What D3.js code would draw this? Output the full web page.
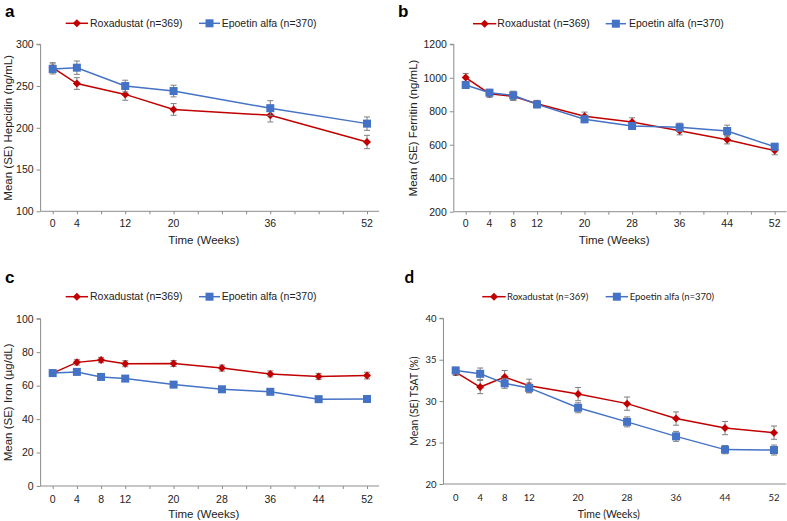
<!DOCTYPE html>
<html><head><meta charset="utf-8">
<script src="https://cdn.jsdelivr.net/npm/d3@7"></script>
<style>body{margin:0;background:#fff}svg{display:block}</style>
</head><body>
<svg id="chart" width="787" height="521"></svg>
<script>
// ---- data ----
const seriesNames = ["Roxadustat (n=369)", "Epoetin alfa (n=370)"];
const weeksA = [0, 4, 12, 20, 36, 52];
const weeksFull = [0, 4, 8, 12, 20, 28, 36, 44, 52];

const hepRoxa = [272, 253, 240, 222, 215, 183];
const hepRoxaSE = [6, 7, 7, 7, 8, 8];
const hepEpo = [270.5, 272, 250, 244, 223.5, 205];
const hepEpoSE = [6, 8, 7, 7, 9, 8];

const ferRoxa = [1001, 905, 889, 845, 770, 736, 684, 630, 565];
const ferRoxaSE = [25, 22, 25, 20, 25, 25, 25, 25, 25];
const ferEpo = [957, 911, 895, 841, 752, 712, 704, 682, 588];
const ferEpoSE = [20, 20, 25, 20, 20, 20, 25, 35, 20];

const ironRoxa = [67.5, 73.9, 75.3, 73.1, 73.2, 70.5, 67.0, 65.5, 66.0];
const ironRoxaSE = [1.2, 1.6, 1.6, 1.8, 1.8, 1.8, 1.8, 1.8, 2.0];
const ironEpo = [67.5, 68.2, 65.2, 64.2, 60.6, 57.8, 56.3, 51.9, 52.0];
const ironEpoSE = [0.8, 0.8, 0.8, 0.8, 0.8, 0.8, 0.8, 0.8, 0.8];

const tsatRoxa = [33.5, 31.7, 32.9, 31.85, 30.85, 29.7, 27.9, 26.75, 26.2];
const tsatRoxaSE = [0.4, 0.8, 0.8, 0.8, 0.8, 0.8, 0.8, 0.8, 0.8];
const tsatEpo = [33.7, 33.3, 32.15, 31.6, 29.2, 27.5, 25.75, 24.15, 24.1];
const tsatEpoSE = [0.4, 0.7, 0.6, 0.6, 0.6, 0.6, 0.6, 0.5, 0.6];

const ticksHep = [100, 150, 200, 250, 300];
const ticksFer = [200, 400, 600, 800, 1000, 1200];
const ticksIron = [0, 20, 40, 60, 80, 100];
const ticksTsat = [20, 25, 30, 35, 40];

// ---- style ----
const RED = "#c00000", BLUE = "#4472c4", ERR = "#7f7f7f", AXIS = "#8c8c8c", TXT = "#222";
const ARIAL = "'Liberation Sans', Arial, sans-serif";
const CAL = "Lato, Carlito, Calibri, sans-serif";

const svg = d3.select("#chart");

const panels = [
  { label: "a", lx: 5, ly: 17, font: ARIAL, tickSize: 10.5, titleSize: 11.5, legSize: 10.5,
    x0: 52.7, x52: 367, yTop: 44.3, yBot: 211.3, dom: [100, 300], yTicks: ticksHep,
    weeks: weeksA, xLabels: weeksA, xMinor: true,
    s: [[hepRoxa, hepRoxaSE], [hepEpo, hepEpoSE]],
    ytitle: "Mean (SE) Hepcidin (ng/mL)", ytx: 8,
    leg: { y: 23.3, r: [65.7, 88, 90], b: [199, 220, 221.7] }, xtY: 227, titleY: 243.5 },
  { label: "b", lx: 398, ly: 17, font: ARIAL, tickSize: 10.5, titleSize: 11.5, legSize: 10.5,
    x0: 465.7, x52: 774.7, yTop: 44.3, yBot: 211.7, dom: [200, 1200], yTicks: ticksFer,
    weeks: weeksFull, xLabels: weeksFull, xMinor: true,
    s: [[ferRoxa, ferRoxaSE], [ferEpo, ferEpoSE]],
    ytitle: "Mean (SE) Ferritin (ng/mL)", ytx: 413,
    leg: { y: 23.7, r: [473, 496.3, 497.3], b: [605.7, 626, 629] }, xtY: 227, titleY: 243.5 },
  { label: "c", lx: 5, ly: 283, font: ARIAL, tickSize: 10.5, titleSize: 11.5, legSize: 10.5,
    x0: 52.7, x52: 367, yTop: 318.7, yBot: 486, dom: [0, 100], yTicks: ticksIron,
    weeks: weeksFull, xLabels: weeksFull, xMinor: true,
    s: [[ironRoxa, ironRoxaSE], [ironEpo, ironEpoSE]],
    ytitle: "Mean (SE) Iron (\u00b5g/dL)", ytx: 8,
    leg: { y: 296.7, r: [65.7, 88, 90], b: [199, 220, 221.7] }, xtY: 502.5, titleY: 517.5 },
  { label: "d", lx: 404.5, ly: 283, font: CAL, tickSize: 9.5, titleSize: 10.5, legSize: 9.5,
    x0: 455.7, x52: 774, yTop: 318.3, yBot: 484, dom: [20, 40], yTicks: ticksTsat,
    weeks: weeksFull, xLabels: weeksFull, xMinor: false,
    s: [[tsatRoxa, tsatRoxaSE], [tsatEpo, tsatEpoSE]],
    ytitle: "Mean (SE) TSAT (%)", ytx: 414,
    leg: { y: 296.7, r: [482.3, 505.7, 507], b: [605.7, 628, 629.7] }, xtY: 501, titleY: 517.5 }
];

function diamond(g, cx, cy, r, color) {
  g.append("path").attr("d", `M${cx},${cy - r}L${cx + r},${cy}L${cx},${cy + r}L${cx - r},${cy}Z`).attr("fill", color);
}

panels.forEach(p => {
  const g = svg.append("g");
  const pw = (p.x52 - p.x0) / 52;
  const x = d3.scaleLinear().domain([-2, 54]).range([p.x0 - 2 * pw, p.x52 + 2 * pw]);
  const y = d3.scaleLinear().domain(p.dom).range([p.yBot, p.yTop]);

  // panel label
  g.append("text").attr("x", p.lx).attr("y", p.ly).text(p.label)
    .attr("font-family", p.font).attr("font-weight", "bold").attr("font-size", 17).attr("fill", "#000");

  // y axis
  const yAx = g.append("g").attr("transform", `translate(${x(-2)},0)`)
    .call(d3.axisLeft(y).tickValues(p.yTicks).tickSize(4).tickPadding(3).tickFormat(d3.format("d")));
  // x axis
  const xTickVals = p.xMinor ? d3.range(0, 53, 4) : [];
  const xAx = g.append("g").attr("transform", `translate(0,${y(p.dom[0])})`)
    .call(d3.axisBottom(x).tickValues(xTickVals).tickSize(3).tickFormat(""));
  [yAx, xAx].forEach(a => {
    a.select(".domain").attr("stroke", AXIS).attr("stroke-width", 1);
    a.selectAll(".tick line").attr("stroke", AXIS);
  });
  xAx.select(".domain").attr("d", `M${x(-2)},0H${x(54)}`);
  yAx.select(".domain").attr("d", `M-4,${y(p.dom[1])}H0V${y(p.dom[0])}`);
  yAx.selectAll("text").attr("font-family", p.font).attr("font-size", p.tickSize).attr("fill", TXT);

  // x labels
  g.selectAll(null).data(p.xLabels).enter().append("text")
    .attr("x", d => x(d)).attr("y", p.xtY).attr("text-anchor", "middle")
    .attr("font-family", p.font).attr("font-size", p.tickSize).attr("fill", TXT).text(d => d);

  // titles
  g.append("text").attr("x", x(25)).attr("y", p.titleY).attr("text-anchor", "middle")
    .attr("font-family", p.font).attr("font-size", p.titleSize).attr("fill", TXT).text("Time (Weeks)");
  const ymid = (p.yTop + p.yBot) / 2;
  g.append("text").attr("transform", `translate(${p.ytx},${ymid}) rotate(-90)`)
    .attr("text-anchor", "middle").attr("dy", "0.35em")
    .attr("font-family", p.font).attr("font-size", p.titleSize).attr("fill", TXT).text(p.ytitle);

  // series
  const colors = [RED, BLUE];
  p.s.forEach((sd, i) => {
    const [vals, se] = sd;
    const pts = p.weeks.map((w, k) => ({ w, v: vals[k], e: se[k] }));
    const sg = g.append("g");
    sg.append("path").datum(pts)
      .attr("d", d3.line().x(d => x(d.w)).y(d => y(d.v)))
      .attr("fill", "none").attr("stroke", colors[i]).attr("stroke-width", 1.5);
    const eb = sg.selectAll(null).data(pts).enter().append("g");
    eb.append("path").attr("d", d => {
      const cx = x(d.w), t = y(d.v + d.e), b = y(d.v - d.e);
      return `M${cx},${t}V${b}M${cx - 3},${t}H${cx + 3}M${cx - 3},${b}H${cx + 3}`;
    }).attr("stroke", ERR).attr("stroke-width", 1).attr("fill", "none");
    pts.forEach(d => {
      if (i === 0) diamond(sg, x(d.w), y(d.v), 4, RED);
      else sg.append("rect").attr("x", x(d.w) - 4).attr("y", y(d.v) - 4).attr("width", 8).attr("height", 8).attr("fill", BLUE);
    });
  });

  // legend
  const L = p.leg;
  [[L.r, RED, 0], [L.b, BLUE, 1]].forEach(([pos, c, i]) => {
    g.append("line").attr("x1", pos[0]).attr("x2", pos[1]).attr("y1", L.y).attr("y2", L.y)
      .attr("stroke", c).attr("stroke-width", 1.5);
    const mx = (pos[0] + pos[1]) / 2;
    if (i === 0) diamond(g, mx, L.y, 4, RED);
    else g.append("rect").attr("x", mx - 4).attr("y", L.y - 4).attr("width", 8).attr("height", 8).attr("fill", BLUE);
    g.append("text").attr("x", pos[2]).attr("y", L.y).attr("dy", "0.35em")
      .attr("font-family", p.font).attr("font-size", p.legSize).attr("fill", TXT).text(seriesNames[i]);
  });
});
</script>
</body></html>
